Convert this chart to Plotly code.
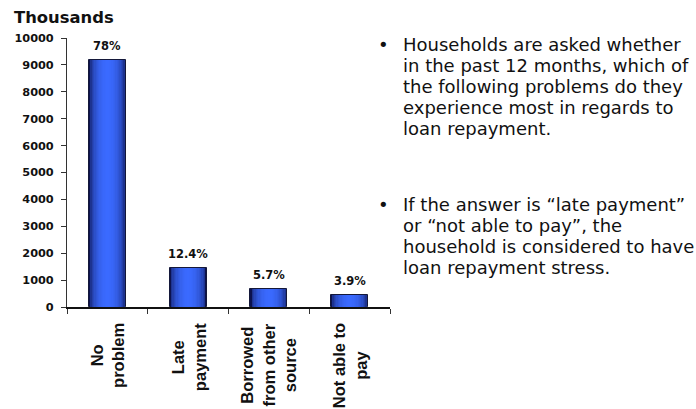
import plotly.graph_objects as go

# Loan repayment problems reported by households (thousands)
categories = ["No problem", "Late payment", "Borrowed from other source", "Not able to pay"]
axis_labels = ["No<br>problem", "Late<br>payment", "Borrowed<br>from other<br>source", "Not able to<br>pay"]
households_k = [9180, 1460, 670, 460]
share_labels = ["78%", "12.4%", "5.7%", "3.9%"]
y_ticks = [0, 1000, 2000, 3000, 4000, 5000, 6000, 7000, 8000, 9000, 10000]
y_tick_text = [str(v) for v in y_ticks]

notes = [
    ["Households are asked whether",
     "in the past 12 months, which of",
     "the following problems do they",
     "experience most in regards to",
     "loan repayment."],
    ["If the answer is \u201clate payment\u201d",
     "or \u201cnot able to pay\u201d, the",
     "household is considered to have",
     "loan repayment stress."],
]

W, H = 696, 409
L, R, T, B = 67, 306, 38, 102
SANS = "DejaVu Sans, sans-serif"
ARIAL = "Liberation Sans, Arial, sans-serif"
INK = "#111111"


def px_x(x):
    return (x - L) / (W - L - R)


def px_y(y):
    return 1 - (y - T) / (H - T - B)


def mix(c1, c2, t):
    return "#%02x%02x%02x" % tuple(round(a + (b - a) * t) for a, b in zip(c1, c2))


dark = (12, 18, 78)
bright = (58, 106, 255)
bar_w = 0.457
layers = 14

fig = go.Figure()
# cylindrical shading: overlaid bars that narrow and brighten toward the centre
for k in range(layers):
    r = 1 - k / layers
    t = (1 - r * r) ** 0.5
    fig.add_trace(go.Bar(
        x=categories, y=households_k,
        width=bar_w * r,
        marker=dict(color=mix(dark, bright, t),
                    line=dict(width=1 if k == 0 else 0, color="#14183a")),
        hoverinfo="skip" if k else None,
        showlegend=False,
    ))

annotations = []
for cat, val, lab in zip(categories, households_k, share_labels):
    annotations.append(dict(x=cat, y=val, xref="x", yref="y", text=lab,
                            showarrow=False, yanchor="bottom", yshift=5,
                            font=dict(family=SANS, size=11.5, color=INK, weight="bold")))
for cat, lab in zip(categories, axis_labels):
    annotations.append(dict(x=cat, y=0, xref="x", yref="paper", text=lab,
                            textangle=-90, align="center", showarrow=False,
                            yanchor="top", yshift=-14,
                            font=dict(family=ARIAL, size=16.5, color=INK, weight="bold")))

annotations.append(dict(x=px_x(12), y=px_y(18), xref="paper", yref="paper",
                        text="Thousands", showarrow=False, xanchor="left", yanchor="middle",
                        font=dict(family=SANS, size=16.4, color=INK, weight="bold")))

# bullet notes, one annotation per line for a tight line pitch
pitch = 21
for lines, first_mid in zip(notes, [44.5, 204]):
    annotations.append(dict(x=px_x(383), y=px_y(first_mid), xref="paper", yref="paper",
                            text="\u2022", showarrow=False, xanchor="center", yanchor="middle",
                            font=dict(family=SANS, size=18, color=INK)))
    for i, line in enumerate(lines):
        annotations.append(dict(x=px_x(401), y=px_y(first_mid + i * pitch),
                                xref="paper", yref="paper", text=line, showarrow=False,
                                xanchor="left", yanchor="middle",
                                font=dict(family=SANS, size=18, color=INK)))

fig.update_layout(
    width=W, height=H,
    margin=dict(l=L, r=R, t=T, b=B),
    paper_bgcolor="white", plot_bgcolor="white",
    barmode="overlay",
    bargap=0,
    annotations=annotations,
    xaxis=dict(type="category", range=[-0.5, 3.5], showticklabels=False,
               ticks="outside", ticklen=5, tickcolor="#333", tickson="boundaries",
               showline=True, linecolor="#111", linewidth=1.5, showgrid=False, zeroline=False),
    yaxis=dict(range=[0, 10000], tickvals=y_ticks, ticktext=y_tick_text,
               ticks="outside", ticklen=5, tickcolor="#333",
               showline=True, linecolor="#333", linewidth=1,
               showgrid=False, zeroline=False, ticklabelstandoff=5,
               tickfont=dict(family=SANS, size=11.3, color=INK, weight="bold")),
)

fig.write_html("out.html")
